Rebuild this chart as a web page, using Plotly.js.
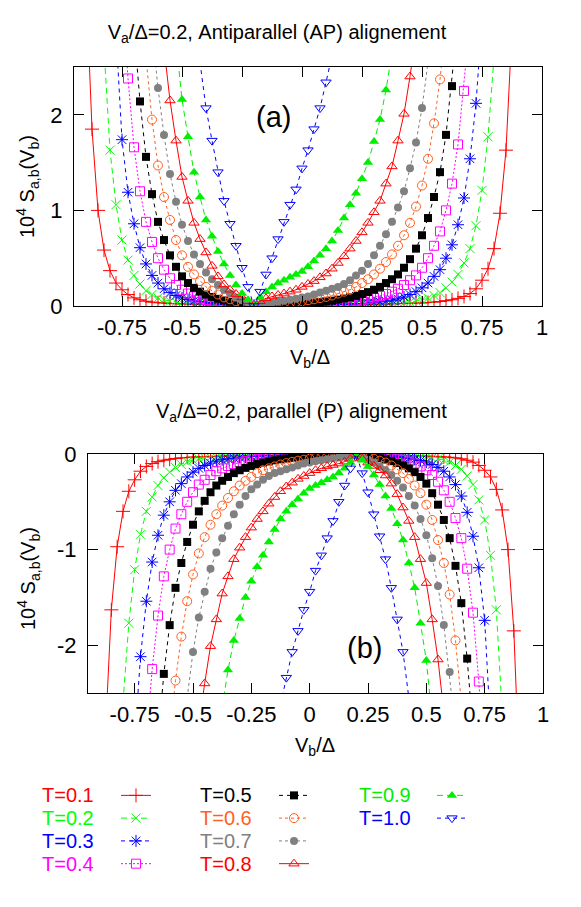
<!DOCTYPE html>
<html><head><meta charset="utf-8">
<script src="https://cdn.plot.ly/plotly-3.0.1.min.js"></script>
<style>html,body{margin:0;padding:0;background:#fff}#chart{width:581px;height:907px}</style>
</head><body><div id="chart"></div>
<script>
const _ = null;

// V_b / Delta grid (step 0.025)
const vb = [
 -1,-0.975,-0.95,-0.925,-0.9,-0.875,-0.85,-0.825,-0.8,-0.775,
 -0.75,-0.725,-0.7,-0.675,-0.65,-0.625,-0.6,-0.575,-0.55,-0.525,
 -0.5,-0.475,-0.45,-0.425,-0.4,-0.375,-0.35,-0.325,-0.3,-0.275,
 -0.25,-0.225,-0.2,-0.175,-0.15,-0.125,-0.1,-0.075,-0.05,-0.025,
 0,0.025,0.05,0.075,0.1,0.125,0.15,0.175,0.2,0.225,
 0.25,0.275,0.3,0.325,0.35,0.375,0.4,0.425,0.45,0.475,
 0.5,0.525,0.55,0.575,0.6,0.625,0.65,0.675,0.7,0.725,
 0.75,0.775,0.8,0.825,0.85,0.875,0.9,0.925,0.95,0.975,
 1];

const labels = ['T=0.1','T=0.2','T=0.3','T=0.4','T=0.5','T=0.6','T=0.7','T=0.8','T=0.9','T=1.0'];

// Panel (a): antiparallel alignment, 10^4 S_ab
const ap1 = [
 _,_,_,_,3.4,1.85,1.0,0.585,0.37,0.24,
 0.17,0.12,0.085,0.065,0.05,0.04,0.034,0.03,0.027,0.024,
 0.022,0.02,0.019,0.017,0.016,0.014,0.013,0.011,0.01,0.008,
 0.006,0.003,0,0.001,0.002,0.003,0.004,0.005,0.006,0.006,
 0.007,0.008,0.008,0.009,0.01,0.011,0.012,0.013,0.014,0.015,
 0.016,0.017,0.018,0.019,0.02,0.022,0.024,0.026,0.028,0.03,
 0.032,0.036,0.04,0.047,0.055,0.065,0.08,0.1,0.13,0.18,
 0.27,0.39,0.6,0.97,1.63,2.9,_,_,_,_,
 _];
const ap2 = [
 _,_,_,_,_,_,_,2.7,1.63,1.06,
 0.69,0.48,0.32,0.23,0.16,0.12,0.085,0.065,0.05,0.04,
 0.032,0.027,0.022,0.019,0.016,0.013,0.011,0.009,0.007,0.005,
 0.004,0.002,0,0.001,0.002,0.003,0.004,0.005,0.006,0.006,
 0.007,0.008,0.009,0.009,0.01,0.011,0.012,0.013,0.015,0.016,
 0.018,0.019,0.02,0.022,0.024,0.027,0.03,0.035,0.04,0.05,
 0.065,0.08,0.11,0.14,0.19,0.25,0.33,0.45,0.6,0.84,
 1.21,1.77,2.6,_,_,_,_,_,_,_,
 _];
const ap3 = [
 _,_,_,_,_,_,_,_,_,2.86,
 1.74,1.19,0.86,0.61,0.44,0.32,0.24,0.18,0.14,0.11,
 0.085,0.068,0.055,0.044,0.035,0.028,0.022,0.017,0.013,0.009,
 0.006,0.003,0,0.001,0.002,0.003,0.004,0.005,0.006,0.007,
 0.008,0.009,0.01,0.011,0.013,0.014,0.016,0.018,0.02,0.023,
 0.026,0.03,0.035,0.042,0.05,0.06,0.075,0.095,0.12,0.15,
 0.19,0.24,0.31,0.38,0.5,0.64,0.85,1.13,1.54,2.12,
 3.0,_,_,_,_,_,_,_,_,_,
 _];
const ap4 = [
 _,_,_,_,_,_,_,_,_,_,
 3.3,2.38,1.66,1.2,0.88,0.67,0.5,0.38,0.29,0.22,
 0.17,0.13,0.1,0.08,0.062,0.048,0.037,0.028,0.02,0.014,
 0.009,0.004,0,0.001,0.002,0.004,0.005,0.006,0.008,0.01,
 0.012,0.015,0.018,0.021,0.025,0.029,0.034,0.04,0.047,0.055,
 0.064,0.075,0.088,0.105,0.125,0.15,0.18,0.22,0.27,0.32,
 0.4,0.5,0.63,0.78,1.0,1.28,1.69,2.25,3.0,_,
 _,_,_,_,_,_,_,_,_,_,
 _];
const ap5 = [
 _,_,_,_,_,_,_,_,_,_,
 _,_,2.9,2.14,1.56,1.17,0.88,0.69,0.53,0.41,
 0.31,0.24,0.19,0.15,0.12,0.095,0.075,0.058,0.044,0.032,
 0.021,0.01,0,0.001,0.003,0.005,0.008,0.011,0.014,0.018,
 0.023,0.028,0.034,0.04,0.048,0.056,0.066,0.078,0.09,0.105,
 0.125,0.145,0.17,0.2,0.24,0.28,0.33,0.4,0.49,0.6,
 0.74,0.92,1.14,1.4,1.79,2.3,3.0,_,_,_,
 _,_,_,_,_,_,_,_,_,_,
 _];
const ap6 = [
 _,_,_,_,_,_,_,_,_,_,
 _,_,_,_,2.6,1.95,1.47,1.14,0.9,0.69,
 0.53,0.41,0.33,0.26,0.2,0.16,0.12,0.09,0.07,0.05,
 0.03,0.015,0,0.005,0.01,0.016,0.022,0.028,0.035,0.042,
 0.05,0.06,0.07,0.082,0.095,0.11,0.13,0.15,0.17,0.2,
 0.24,0.28,0.33,0.39,0.46,0.54,0.63,0.74,0.87,1.04,
 1.26,1.54,1.91,2.37,2.95,_,_,_,_,_,
 _,_,_,_,_,_,_,_,_,_,
 _];
const ap7 = [
 _,_,_,_,_,_,_,_,_,_,
 _,_,_,_,_,2.9,2.28,1.79,1.38,1.09,
 0.85,0.68,0.54,0.44,0.35,0.28,0.22,0.17,0.13,0.09,
 0.06,0.03,0,0.013,0.025,0.035,0.045,0.055,0.065,0.075,
 0.09,0.1,0.12,0.14,0.16,0.18,0.2,0.23,0.27,0.32,
 0.37,0.44,0.53,0.63,0.75,0.88,1.03,1.2,1.44,1.71,
 2.07,2.55,_,_,_,_,_,_,_,_,
 _,_,_,_,_,_,_,_,_,_,
 _];
const ap8 = [
 _,_,_,_,_,_,_,_,_,_,
 _,_,_,_,_,_,_,2.7,2.15,1.73,
 1.35,1.1,0.87,0.7,0.56,0.42,0.31,0.225,0.17,0.125,
 0.09,0.05,0,0.05,0.08,0.1,0.115,0.13,0.15,0.17,
 0.2,0.23,0.26,0.3,0.34,0.39,0.45,0.52,0.6,0.68,
 0.77,0.87,0.98,1.1,1.28,1.46,1.73,2.01,2.4,2.85,
 _,_,_,_,_,_,_,_,_,_,
 _,_,_,_,_,_,_,_,_,_,
 _];
const ap9 = [
 _,_,_,_,_,_,_,_,_,_,
 _,_,_,_,_,_,_,_,_,2.77,
 2.16,1.77,1.4,1.14,0.9,0.73,0.57,0.44,0.32,0.22,
 0.13,0.065,0,0.09,0.15,0.2,0.24,0.27,0.3,0.33,
 0.36,0.41,0.47,0.53,0.6,0.68,0.79,0.92,1.06,1.18,
 1.33,1.5,1.72,1.95,2.26,2.65,_,_,_,_,
 _,_,_,_,_,_,_,_,_,_,
 _,_,_,_,_,_,_,_,_,_,
 _];
const ap10 = [
 _,_,_,_,_,_,_,_,_,_,
 _,_,_,_,_,_,_,_,_,_,
 _,_,_,2.55,2.07,1.73,1.4,1.1,0.86,0.63,
 0.4,0.2,0,0.15,0.33,0.5,0.7,0.88,1.06,1.22,
 1.44,1.63,1.85,2.07,2.34,2.62,_,_,_,_,
 _,_,_,_,_,_,_,_,_,_,
 _,_,_,_,_,_,_,_,_,_,
 _,_,_,_,_,_,_,_,_,_,
 _];

// Panel (b): parallel alignment, 10^4 S_ab
const pp1 = [
 _,_,_,_,_,-2.9,-1.63,-0.97,-0.6,-0.39,
 -0.27,-0.18,-0.13,-0.1,-0.08,-0.065,-0.055,-0.047,-0.04,-0.036,
 -0.032,-0.03,-0.028,-0.026,-0.024,-0.022,-0.02,-0.019,-0.018,-0.017,
 -0.016,-0.015,-0.014,-0.013,-0.012,-0.011,-0.01,-0.009,-0.008,-0.008,
 -0.007,-0.006,-0.006,-0.005,-0.004,-0.003,-0.002,-0.001,0,-0.003,
 -0.006,-0.008,-0.01,-0.011,-0.013,-0.014,-0.016,-0.017,-0.019,-0.02,
 -0.022,-0.024,-0.027,-0.03,-0.034,-0.04,-0.05,-0.065,-0.085,-0.12,
 -0.17,-0.24,-0.37,-0.585,-1.0,-1.85,-3.4,_,_,_,
 _];
const pp2 = [
 _,_,_,_,_,_,_,_,-2.6,-1.77,
 -1.21,-0.84,-0.6,-0.45,-0.33,-0.25,-0.19,-0.14,-0.11,-0.08,
 -0.065,-0.05,-0.04,-0.035,-0.03,-0.027,-0.024,-0.022,-0.02,-0.019,
 -0.018,-0.016,-0.015,-0.013,-0.012,-0.011,-0.01,-0.009,-0.009,-0.008,
 -0.007,-0.006,-0.006,-0.005,-0.004,-0.003,-0.002,-0.001,0,-0.002,
 -0.004,-0.005,-0.007,-0.009,-0.011,-0.013,-0.016,-0.019,-0.022,-0.027,
 -0.032,-0.04,-0.05,-0.065,-0.085,-0.12,-0.16,-0.23,-0.32,-0.48,
 -0.69,-1.06,-1.63,-2.7,_,_,_,_,_,_,
 _];
const pp3 = [
 _,_,_,_,_,_,_,_,_,_,
 -3.0,-2.12,-1.54,-1.13,-0.85,-0.64,-0.5,-0.38,-0.31,-0.24,
 -0.19,-0.15,-0.12,-0.095,-0.075,-0.06,-0.05,-0.042,-0.035,-0.03,
 -0.026,-0.023,-0.02,-0.018,-0.016,-0.014,-0.013,-0.011,-0.01,-0.009,
 -0.008,-0.007,-0.006,-0.005,-0.004,-0.003,-0.002,-0.001,0,-0.003,
 -0.006,-0.009,-0.013,-0.017,-0.022,-0.028,-0.035,-0.044,-0.055,-0.068,
 -0.085,-0.11,-0.14,-0.18,-0.24,-0.32,-0.44,-0.61,-0.86,-1.19,
 -1.74,-2.86,_,_,_,_,_,_,_,_,
 _];
const pp4 = [
 _,_,_,_,_,_,_,_,_,_,
 _,_,-3.0,-2.25,-1.69,-1.28,-1.0,-0.78,-0.63,-0.5,
 -0.4,-0.32,-0.27,-0.22,-0.18,-0.15,-0.125,-0.105,-0.088,-0.075,
 -0.064,-0.055,-0.047,-0.04,-0.034,-0.029,-0.025,-0.021,-0.018,-0.015,
 -0.012,-0.01,-0.008,-0.006,-0.005,-0.004,-0.002,-0.001,0,-0.004,
 -0.009,-0.014,-0.02,-0.028,-0.037,-0.048,-0.062,-0.08,-0.1,-0.13,
 -0.17,-0.22,-0.29,-0.38,-0.5,-0.67,-0.88,-1.2,-1.66,-2.38,
 -3.3,_,_,_,_,_,_,_,_,_,
 _];
const pp5 = [
 _,_,_,_,_,_,_,_,_,_,
 _,_,_,_,-3.0,-2.3,-1.79,-1.4,-1.14,-0.92,
 -0.74,-0.6,-0.49,-0.4,-0.33,-0.28,-0.24,-0.2,-0.17,-0.145,
 -0.125,-0.105,-0.09,-0.078,-0.066,-0.056,-0.048,-0.04,-0.034,-0.028,
 -0.023,-0.018,-0.014,-0.011,-0.008,-0.005,-0.003,-0.001,0,-0.01,
 -0.021,-0.032,-0.044,-0.058,-0.075,-0.095,-0.12,-0.15,-0.19,-0.24,
 -0.31,-0.41,-0.53,-0.69,-0.88,-1.17,-1.56,-2.14,-2.9,_,
 _,_,_,_,_,_,_,_,_,_,
 _];
const pp6 = [
 _,_,_,_,_,_,_,_,_,_,
 _,_,_,_,_,_,-2.95,-2.37,-1.91,-1.54,
 -1.26,-1.04,-0.87,-0.74,-0.63,-0.54,-0.46,-0.39,-0.33,-0.28,
 -0.24,-0.2,-0.17,-0.15,-0.13,-0.11,-0.095,-0.082,-0.07,-0.06,
 -0.05,-0.042,-0.035,-0.028,-0.022,-0.016,-0.01,-0.005,0,-0.015,
 -0.03,-0.05,-0.07,-0.09,-0.12,-0.16,-0.2,-0.26,-0.33,-0.41,
 -0.53,-0.69,-0.9,-1.14,-1.47,-1.95,-2.6,_,_,_,
 _,_,_,_,_,_,_,_,_,_,
 _];
const pp7 = [
 _,_,_,_,_,_,_,_,_,_,
 _,_,_,_,_,_,_,_,_,-2.55,
 -2.07,-1.71,-1.44,-1.2,-1.03,-0.88,-0.75,-0.63,-0.53,-0.44,
 -0.37,-0.32,-0.27,-0.23,-0.2,-0.18,-0.16,-0.14,-0.12,-0.1,
 -0.09,-0.075,-0.065,-0.055,-0.045,-0.035,-0.025,-0.013,0,-0.03,
 -0.06,-0.09,-0.13,-0.17,-0.22,-0.28,-0.35,-0.44,-0.54,-0.68,
 -0.85,-1.09,-1.38,-1.79,-2.28,-2.9,_,_,_,_,
 _,_,_,_,_,_,_,_,_,_,
 _];
const pp8 = [
 _,_,_,_,_,_,_,_,_,_,
 _,_,_,_,_,_,_,_,_,_,
 _,-2.85,-2.4,-2.01,-1.73,-1.46,-1.28,-1.1,-0.98,-0.87,
 -0.77,-0.68,-0.6,-0.52,-0.45,-0.39,-0.34,-0.3,-0.26,-0.23,
 -0.2,-0.17,-0.15,-0.13,-0.115,-0.1,-0.08,-0.05,0,-0.05,
 -0.09,-0.125,-0.17,-0.225,-0.31,-0.42,-0.56,-0.7,-0.87,-1.1,
 -1.35,-1.73,-2.15,-2.7,_,_,_,_,_,_,
 _,_,_,_,_,_,_,_,_,_,
 _];
const pp9 = [
 _,_,_,_,_,_,_,_,_,_,
 _,_,_,_,_,_,_,_,_,_,
 _,_,_,_,_,-2.65,-2.26,-1.95,-1.72,-1.5,
 -1.33,-1.18,-1.06,-0.92,-0.79,-0.68,-0.6,-0.53,-0.47,-0.41,
 -0.36,-0.33,-0.3,-0.27,-0.24,-0.2,-0.15,-0.09,0,-0.065,
 -0.13,-0.22,-0.32,-0.44,-0.57,-0.73,-0.9,-1.14,-1.4,-1.77,
 -2.16,-2.77,_,_,_,_,_,_,_,_,
 _,_,_,_,_,_,_,_,_,_,
 _];
const pp10 = [
 _,_,_,_,_,_,_,_,_,_,
 _,_,_,_,_,_,_,_,_,_,
 _,_,_,_,_,_,_,_,_,_,
 _,_,_,_,_,-2.62,-2.34,-2.07,-1.85,-1.63,
 -1.44,-1.22,-1.06,-0.88,-0.7,-0.5,-0.33,-0.15,0,-0.2,
 -0.4,-0.63,-0.86,-1.1,-1.4,-1.73,-2.07,-2.55,_,_,
 _,_,_,_,_,_,_,_,_,_,
 _,_,_,_,_,_,_,_,_,_,
 _];

const xTickVals = [-0.75,-0.5,-0.25,0,0.25,0.5,0.75,1];
const xTickText = ['-0.75','-0.5','-0.25','0','0.25','0.5','0.75','1'];
const yTickValsA = [0,1,2];
const yTickTextA = ['0','1','2'];
const yTickValsB = [-2,-1,0];
const yTickTextB = ['-2','-1','0'];

const apSeries = [ap1,ap2,ap3,ap4,ap5,ap6,ap7,ap8,ap9,ap10];
const ppSeries = [pp1,pp2,pp3,pp4,pp5,pp6,pp7,pp8,pp9,pp10];

// styles
const styles = [
 {color:'#ff0000', symbol:'cross-thin-open', size:10, dash:'solid', open:true},
 {color:'#00ff00', symbol:'x-thin-open', size:9, dash:'6px,4px', open:true},
 {color:'#0000ff', symbol:'asterisk-open', size:10, dash:'4px,4px', open:true},
 {color:'#ff00ff', symbol:'square-open', size:9, dash:'2px,2px', open:true},
 {color:'#000000', symbol:'square', size:8, dash:'4px,4px', open:false},
 {color:'#ff5f1f', symbol:'circle-open', size:9, dash:'3px,3px', open:true},
 {color:'#808080', symbol:'circle', size:8, dash:'3px,3px', open:false},
 {color:'#ff0000', symbol:'triangle-up-open', size:9, dash:'solid', open:true},
 {color:'#00ee00', symbol:'triangle-up', size:9, dash:'6px,4px', open:false},
 {color:'#0000ff', symbol:'triangle-down-open', size:9, dash:'4px,4px', open:true}
];
const legendOf = i => (i < 4 ? 'legend' : (i < 8 ? 'legend2' : 'legend3'));

const traces = [];
function mk(yArr, i, xa, ya, showLeg) {
  const s = styles[i];
  return {
    x: vb, y: yArr, xaxis: xa, yaxis: ya, type: 'scatter', mode: 'lines+markers',
    name: ' ', legend: legendOf(i), showlegend: showLeg, connectgaps: false,
    cliponaxis: true, hoverinfo: 'skip',
    line: {color: s.color, width: 1, dash: s.dash},
    marker: {symbol: s.symbol, size: s.size, color: s.color,
             line: {color: s.color, width: s.open ? 1 : 0}}
  };
}
apSeries.forEach((arr, i) => traces.push(mk(arr, i, 'x', 'y', true)));
ppSeries.forEach((arr, i) => traces.push(mk(arr, i, 'x2', 'y2', false)));

const W = 581, H = 907;
const px = v => v / W, py = v => 1 - v / H;
const FONT = 'Liberation Sans, Arial, Helvetica, sans-serif';

const axisCommon = {
  showline: true, linecolor: '#000', linewidth: 1, mirror: 'ticks',
  ticks: 'inside', ticklen: 10, tickwidth: 1, tickcolor: '#000',
  showgrid: false, zeroline: false, tickmode: 'array',
  tickfont: {family: FONT, size: 22, color: '#000'}, fixedrange: true
};

const annotations = [
  {text: 'V<sub>a</sub>/Δ=0.2, parallel (P) alignement', x: px(301), y: py(412), xref: 'paper', yref: 'paper',
   showarrow: false, xanchor: 'center', yanchor: 'middle', font: {size: 20}},
  {text: '(a)', x: px(273), y: py(117), xref: 'paper', yref: 'paper', showarrow: false,
   xanchor: 'center', yanchor: 'middle', font: {size: 29}},
  {text: '(b)', x: px(364), y: py(648), xref: 'paper', yref: 'paper', showarrow: false,
   xanchor: 'center', yanchor: 'middle', font: {size: 29}},
  {text: 'V<sub>b</sub>/Δ', x: px(310), y: py(359), xref: 'paper', yref: 'paper', showarrow: false,
   xanchor: 'center', yanchor: 'middle', font: {size: 20}},
  {text: 'V<sub>b</sub>/Δ', x: px(315), y: py(746), xref: 'paper', yref: 'paper', showarrow: false,
   xanchor: 'center', yanchor: 'middle', font: {size: 20}},
  {text: '10<sup>4</sup> S<sub>a,b</sub>(V<sub>b</sub>)', x: px(28), y: py(187), xref: 'paper', yref: 'paper',
   showarrow: false, textangle: -90, xanchor: 'center', yanchor: 'middle', font: {size: 20}},
  {text: '10<sup>4</sup> S<sub>a,b</sub>(V<sub>b</sub>)', x: px(28), y: py(579), xref: 'paper', yref: 'paper',
   showarrow: false, textangle: -90, xanchor: 'center', yanchor: 'middle', font: {size: 20}}
];
// legend labels (text to the left of each legend sample)
const legTextX = [40, 40, 40, 40, 198, 198, 198, 198, 357, 357];
const legRowY = [795, 818, 841, 864];
labels.forEach((lab, i) => {
  const row = i < 8 ? i % 4 : i - 8;
  annotations.push({text: lab, x: px(legTextX[i]), y: py(legRowY[row]), xref: 'paper', yref: 'paper',
    showarrow: false, xanchor: 'left', yanchor: 'middle',
    font: {size: 20, color: styles[i].color}});
});

const legBase = {orientation: 'v', xanchor: 'left', yanchor: 'top', bgcolor: 'rgba(0,0,0,0)',
  borderwidth: 0, font: {size: 15.2}, itemclick: false, itemdoubleclick: false, tracegroupgap: 0};

const layout = {
  width: W, height: H, margin: {l: 0, r: 0, t: 0, b: 0},
  paper_bgcolor: '#fff', plot_bgcolor: '#fff',
  font: {family: FONT, color: '#000', size: 20},
  title: {text: 'V<sub>a</sub>/Δ=0.2, Antiparallel (AP) alignement', x: px(277), xanchor: 'center',
          xref: 'paper', y: py(32), yref: 'container', yanchor: 'middle', font: {size: 20}},
  showlegend: true,
  hovermode: false,
  xaxis: Object.assign({}, axisCommon, {domain: [px(74), px(542)], range: [-0.95, 1], anchor: 'y',
          tickvals: xTickVals, ticktext: xTickText, ticklabelstandoff: 2}),
  yaxis: Object.assign({}, axisCommon, {domain: [py(306), py(67)], range: [0, 2.5], anchor: 'x',
          tickvals: yTickValsA, ticktext: yTickTextA, ticklabelstandoff: 6}),
  xaxis2: Object.assign({}, axisCommon, {domain: [px(88), px(543)], range: [-0.95, 1], anchor: 'y2',
          tickvals: xTickVals, ticktext: xTickText, ticklabelstandoff: 2}),
  yaxis2: Object.assign({}, axisCommon, {domain: [py(693), py(454)], range: [-2.5, 0], anchor: 'x2',
          tickvals: yTickValsB, ticktext: yTickTextB, ticklabelstandoff: 6}),
  legend: Object.assign({}, legBase, {x: px(136 - 20), y: py(779)}),
  legend2: Object.assign({}, legBase, {x: px(294 - 20), y: py(779)}),
  legend3: Object.assign({}, legBase, {x: px(452 - 20), y: py(779)}),
  annotations: annotations
};

// Tidy the SVG: drop blank legend labels (the labels are drawn as annotations),
// fold Plotly's zero-width baseline-reset tspans into the text that follows them,
// strip leftover zero-width spaces, and give every tspan an explicit pixel font size.
const SVGNS = 'http://www.w3.org/2000/svg';
function tidy() {
  document.querySelectorAll('#chart text.legendtext').forEach(t => t.remove());
  document.querySelectorAll('#chart text').forEach(t => {
    if (!t.textContent || !t.textContent.replace(/\u200b/g, '').trim()) t.remove();
  });
  document.querySelectorAll('#chart tspan').forEach(ts => {
    if (ts.childElementCount) return;
    if (ts.textContent.replace(/\u200b/g, '') !== '') return;
    const dy = ts.getAttribute('dy');
    const nx = ts.nextSibling;
    if (dy && nx) {
      if (nx.nodeType === 3) {
        const w = document.createElementNS(SVGNS, 'tspan');
        w.setAttribute('dy', dy);
        w.textContent = nx.textContent;
        nx.parentNode.replaceChild(w, nx);
      } else if (nx.nodeType === 1) {
        const d2 = nx.getAttribute('dy');
        if (!d2) nx.setAttribute('dy', dy);
        else nx.setAttribute('dy', (parseFloat(d2) + parseFloat(dy)) + 'em');
      }
    }
    ts.remove();
  });
  const root = document.getElementById('chart');
  const walker = document.createTreeWalker(root, NodeFilter.SHOW_TEXT, null);
  const zw = [];
  while (walker.nextNode()) {
    if (walker.currentNode.nodeValue.indexOf('\u200b') >= 0) zw.push(walker.currentNode);
  }
  zw.forEach(n => {
    const v = n.nodeValue.replace(/\u200b/g, '');
    if (v === '') n.parentNode.removeChild(n); else n.nodeValue = v;
  });
  document.querySelectorAll('#chart tspan').forEach(ts => {
    if (!ts.textContent) { ts.remove(); return; }
    const fs = window.getComputedStyle(ts).fontSize;
    if (fs) ts.style.fontSize = fs;
  });
}
const gd = document.getElementById('chart');
Plotly.newPlot(gd, traces, layout, {staticPlot: true, displayModeBar: false}).then(tidy);
</script>
</body></html>
